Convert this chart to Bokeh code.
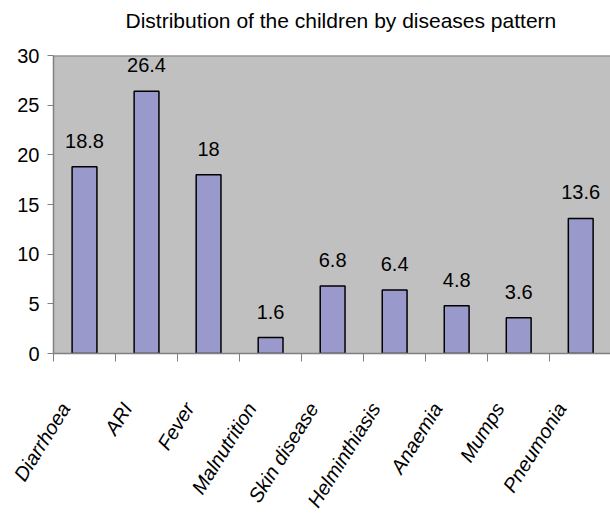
from bokeh.plotting import figure
from bokeh.models import ColumnDataSource, LabelSet, FixedTicker, Span, Range1d, Title
from bokeh.core.properties import value
from bokeh.embed import file_html
from bokeh.resources import INLINE

categories = ["Diarrhoea", "ARI", "Fever", "Malnutrition", "Skin disease",
              "Helminthiasis", "Anaemia", "Mumps", "Pneumonia"]
values = [18.8, 26.4, 18, 1.6, 6.8, 6.4, 4.8, 3.6, 13.6]
y_ticks = [0, 5, 10, 15, 20, 25, 30]
title_text = "Distribution of the children by diseases pattern"

FONT = "Liberation Sans"
GRAY = "#808080"

xs = [i + 0.5 for i in range(len(categories))]
src = ColumnDataSource(dict(x=xs, v=values, lab=[f"{v:g}" for v in values]))

p = figure(width=610, height=521, output_backend="svg", toolbar_location=None,
           x_range=Range1d(0, 8.98), y_range=Range1d(0, 30),
           min_border_left=53, min_border_right=0, min_border_top=55,
           min_border_bottom=168)
p.border_fill_color = "white"
p.outline_line_color = None
p.xgrid.visible = False
p.ygrid.visible = False
p.background_fill_color = "#C0C0C0"

p.vbar(x="x", top="v", width=0.4, source=src, fill_color="#9999CC",
       line_color="black", line_width=1.5)
p.add_layout(Span(location=30, dimension="width", line_color=GRAY, line_width=2))

labels = LabelSet(x="x", y="v", text="lab", source=src, y_offset=19,
                  text_align="center", text_baseline="alphabetic",
                  text_font=value(FONT), text_font_size=value("20px"),
                  text_color="black")
p.add_layout(labels)

# y axis
ya = p.yaxis[0]
ya.ticker = FixedTicker(ticks=y_ticks)
ya.axis_line_color = GRAY
ya.axis_line_width = 1.5
ya.major_tick_line_color = GRAY
ya.major_tick_out = 6
ya.major_tick_in = 0
ya.minor_tick_line_color = None
ya.major_label_standoff = 8
ya.major_label_text_font = FONT
ya.major_label_text_font_size = "20px"
ya.major_label_text_color = "black"

# x axis: labels slightly left of category centres, tick marks at category boundaries
xa = p.xaxis[0]
label_pos = [i + 0.19 for i in range(len(categories))]
xa.ticker = FixedTicker(ticks=label_pos, minor_ticks=list(range(len(categories) + 1)))
xa.major_label_overrides = {pos: c for pos, c in zip(label_pos, categories)}
xa.axis_line_color = GRAY
xa.axis_line_width = 1.5
xa.major_tick_line_color = None
xa.minor_tick_line_color = GRAY
xa.minor_tick_out = 8
xa.minor_tick_in = 0
xa.major_label_orientation = 1.012
xa.major_label_standoff = 43
xa.major_label_text_font = FONT
xa.major_label_text_font_style = "italic"
xa.major_label_text_font_size = "20px"
xa.major_label_text_color = "black"

# real chart title (outer) and a spacer title closer to the plot
p.title.text = title_text
p.title.text_font = FONT
p.title.text_font_style = "normal"
p.title.text_font_size = "21px"
p.title.align = "left"
p.title.offset = 72
p.title.vertical_align = "bottom"
p.title.standoff = 0
p.title.text_color = "black"
spacer = Title(text=" ", text_font_size="2px", standoff=20)
p.add_layout(spacer, "above")

open("out.html", "w").write(file_html(p, INLINE))
